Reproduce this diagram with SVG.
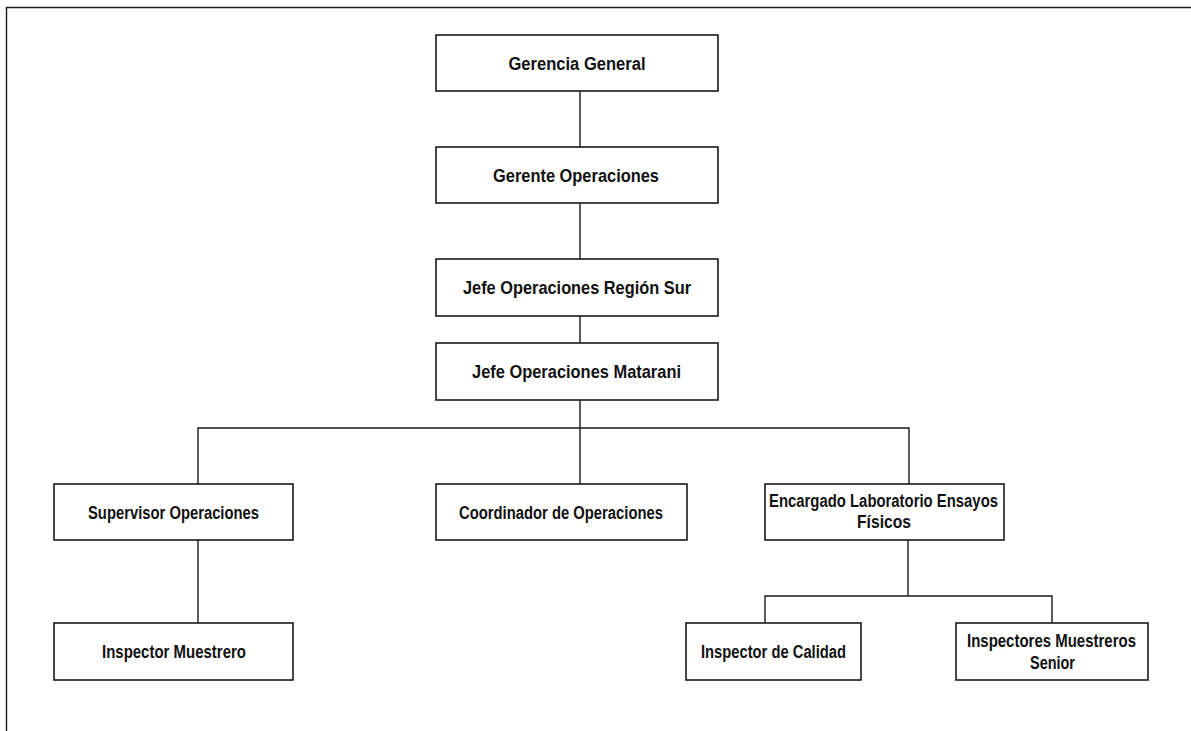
<svg xmlns="http://www.w3.org/2000/svg" width="1191" height="731" viewBox="0 0 1191 731">
<style>
.box{fill:#fff;stroke:#1a1a1a;stroke-width:1.6}
.ln{fill:none;stroke:#1a1a1a;stroke-width:1.4}
.t{font-family:"Liberation Sans",Arial,sans-serif;font-weight:bold;font-size:18px;fill:#111;text-anchor:middle}
</style>
<rect width="1191" height="731" fill="#fff"/>
<path class="ln" d="M6.5,731 V7.5 H1191" stroke-width="2"/>
<g id="connectors">
<path class="ln" d="M580,91 V147 M580,203 V259 M580,316 V343 M580,400 V484"/>
<path class="ln" d="M198,540 V428 H909 V484"/>
<path class="ln" d="M198,540 V623"/>
<path class="ln" d="M908,540 V596 M765,623 V596 H1052 V623"/>
</g>
<g id="n1"><rect class="box" x="436" y="35" width="282" height="56"/><text class="t" x="577" y="70" textLength="137" lengthAdjust="spacingAndGlyphs">Gerencia General</text></g>
<g id="n2"><rect class="box" x="436" y="147" width="282" height="56"/><text class="t" x="576" y="182" textLength="166" lengthAdjust="spacingAndGlyphs">Gerente Operaciones</text></g>
<g id="n3"><rect class="box" x="436" y="259" width="282" height="57"/><text class="t" x="577" y="294" textLength="228" lengthAdjust="spacingAndGlyphs">Jefe Operaciones Región Sur</text></g>
<g id="n4"><rect class="box" x="436" y="343" width="282" height="57"/><text class="t" x="576.5" y="378" textLength="209" lengthAdjust="spacingAndGlyphs">Jefe Operaciones Matarani</text></g>
<g id="n5"><rect class="box" x="54" y="484" width="239" height="56"/><text class="t" x="173.5" y="519" textLength="171" lengthAdjust="spacingAndGlyphs">Supervisor Operaciones</text></g>
<g id="n6"><rect class="box" x="436" y="484" width="251" height="56"/><text class="t" x="561" y="519" textLength="204" lengthAdjust="spacingAndGlyphs">Coordinador de Operaciones</text></g>
<g id="n7"><rect class="box" x="765" y="484" width="239" height="56"/><text class="t" x="883.5" y="507" textLength="229" lengthAdjust="spacingAndGlyphs">Encargado Laboratorio Ensayos</text><text class="t" x="884" y="528" textLength="54" lengthAdjust="spacingAndGlyphs">Físicos</text></g>
<g id="n8"><rect class="box" x="54" y="623" width="239" height="57"/><text class="t" x="174" y="658" textLength="144" lengthAdjust="spacingAndGlyphs">Inspector Muestrero</text></g>
<g id="n9"><rect class="box" x="686" y="623" width="175" height="57"/><text class="t" x="773.5" y="658" textLength="145" lengthAdjust="spacingAndGlyphs">Inspector de Calidad</text></g>
<g id="n10"><rect class="box" x="956" y="623" width="192" height="57"/><text class="t" x="1051.5" y="647" textLength="169" lengthAdjust="spacingAndGlyphs">Inspectores Muestreros</text><text class="t" x="1052.5" y="669" textLength="45" lengthAdjust="spacingAndGlyphs">Senior</text></g>
</svg>
